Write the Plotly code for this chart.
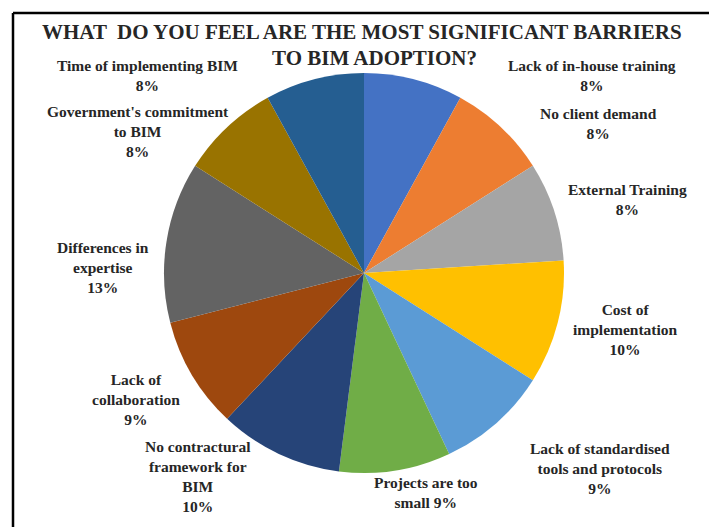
import plotly.graph_objects as go

# ---- data ----
categories = [
    "Lack of in-house training",
    "No client demand",
    "External Training",
    "Cost of implementation",
    "Lack of standardised tools and protocols",
    "Projects are too small",
    "No contractural framework for BIM",
    "Lack of collaboration",
    "Differences in expertise",
    "Government's commitment to BIM",
    "Time of implementing BIM",
]
values = [8, 8, 8, 10, 9, 9, 10, 9, 13, 8, 8]
label_text = [
    "Lack of in-house training",
    "No client demand",
    "External Training",
    "Cost of<br>implementation",
    "Lack of standardised<br>tools and protocols",
    "Projects are too<br>small",
    "No contractural<br>framework for<br>BIM",
    "Lack of<br>collaboration",
    "Differences in<br>expertise",
    "Government's commitment<br>to BIM",
    "Time of implementing BIM",
]
pct_sep = ["<br>", "<br>", "<br>", "<br>", "<br>", " ", "<br>", "<br>", "<br>", "<br>", "<br>"]
title_lines = ["WHAT  DO YOU FEEL ARE THE MOST SIGNIFICANT BARRIERS", "TO BIM ADOPTION?"]

# ---- style ----
colors = ["#4472C4", "#ED7D31", "#A5A5A5", "#FFC000", "#5B9BD5", "#70AD47",
          "#264478", "#9E480E", "#636363", "#997300", "#255E91"]
W, H = 717, 527
# label centres in pixels (x, y)
label_pos = [(584, 67), (590, 116), (619, 192), (617, 321), (592, 460), (418, 484),
             (190, 468), (128, 391), (95, 259), (130, 123), (139, 67)]
title_pos = [(354, 24), (366, 50)]

cx, cy, r = 356, 265, 200
SERIF = "Liberation Serif"

fig = go.Figure()
fig.add_trace(go.Pie(
    labels=categories,
    values=values,
    sort=False,
    direction="clockwise",
    rotation=0,
    marker=dict(colors=colors, line=dict(width=0)),
    textinfo="none",
    showlegend=False,
    domain=dict(x=[(cx - r) / W, (cx + r) / W], y=[(H - cy - r) / H, (H - cy + r) / H]),
))

font_lbl = dict(family=SERIF, size=15.5, color="#262626")
annotations = []
for txt, sep, v, (px, py) in zip(label_text, pct_sep, values, label_pos):
    annotations.append(dict(
        text=f"<b>{txt}{sep}{v}%</b>", x=px / W, y=1 - py / H, xref="paper", yref="paper",
        xanchor="center", yanchor="middle", showarrow=False, align="center", font=font_lbl))
for t, (px, py) in zip(title_lines, title_pos):
    annotations.append(dict(
        text=f"<b>{t}</b>", x=px / W, y=1 - py / H, xref="paper", yref="paper",
        xanchor="center", yanchor="middle", showarrow=False,
        font=dict(family=SERIF, size=21, color="#262626")))

shapes = [
    dict(type="line", xref="paper", yref="paper", x0=5 / W, x1=1, y0=1 - 5 / H, y1=1 - 5 / H,
         line=dict(color="black", width=2.5)),
    dict(type="line", xref="paper", yref="paper", x0=5 / W, x1=5 / W, y0=0, y1=1 - 5 / H,
         line=dict(color="black", width=2.5)),
]

fig.update_layout(
    width=W, height=H,
    margin=dict(l=0, r=0, t=0, b=0),
    paper_bgcolor="white", plot_bgcolor="white",
    font=dict(family=SERIF),
    annotations=annotations, shapes=shapes,
)
fig.write_html("out.html")
